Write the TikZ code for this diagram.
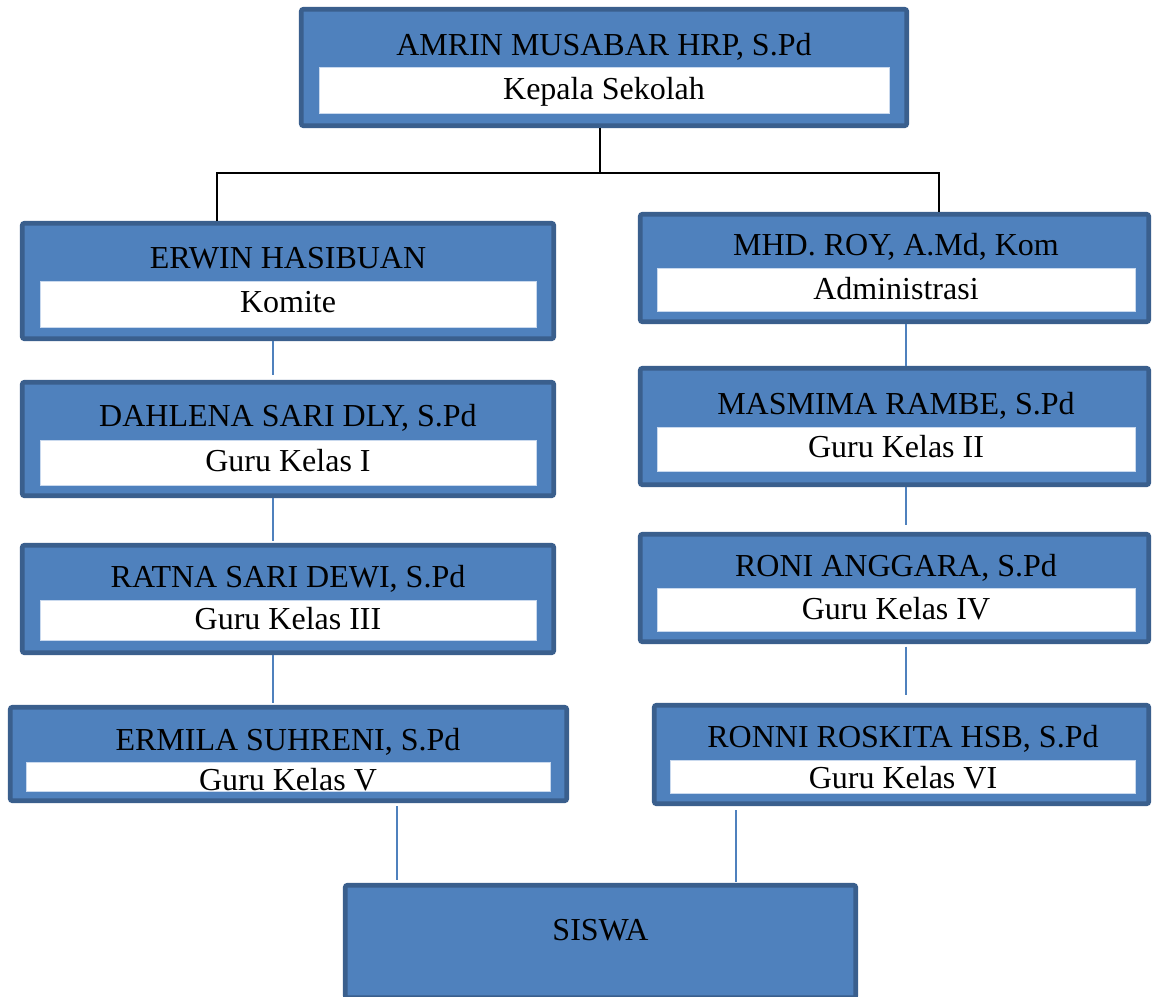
\documentclass[tikz,border=0pt]{standalone}
\usepackage{fontspec}
\setmainfont{Liberation Serif}
\definecolor{boxfill}{HTML}{4F81BD}
\definecolor{boxborder}{HTML}{3A5F8D}
\definecolor{whiteedge}{HTML}{C9D9EE}
\definecolor{linkblue}{HTML}{4F81BD}
\tikzset{
  bluebox/.style={draw=boxborder, fill=boxfill, line width=3.4pt, rounded corners=1.5pt, inner sep=0pt},
  whitebox/.style={draw=whiteedge, fill=white, line width=0.6pt, inner sep=0pt},
  lbl/.style={font=\fontsize{24}{28}\selectfont, anchor=base, inner sep=0pt, text=black},
  link/.style={draw=linkblue, line width=1.1pt},
  boss/.style={draw=black, line width=1.5pt}
}
\newcommand\mkbox[5]{\node[bluebox, minimum width={(#4-#2-4.5)*0.75pt}, minimum height={(#5-#3-4.5)*0.75pt}] (#1) at ({(#2+#4)/2},{(#3+#5)/2}) {};}
\newcommand\mkwhite[5]{\node[whitebox, minimum width={(#4-#2)*0.75pt}, minimum height={(#5-#3)*0.75pt}] (#1) at ({(#2+#4)/2},{(#3+#5)/2}) {};}
\begin{document}
\begin{tikzpicture}[x=0.75pt,y=-0.75pt]
\clip (0,0) rectangle (1153,996);
\fill[white] (0,0) rectangle (1153,996);

% boxes
\mkbox{top}{299}{7}{909}{128}
\mkwhite{topw}{319}{67}{889}{113}
\mkbox{erwin}{20}{221}{556}{341}
\mkwhite{erwinw}{40}{281}{536}{327}
\mkbox{dahlena}{20}{380}{556}{498}
\mkwhite{dahlenaw}{40}{440}{536}{485}
\mkbox{ratna}{20}{543}{556}{655}
\mkwhite{ratnaw}{40}{600}{536}{640}
\mkbox{ermila}{8}{705}{569}{803}
\mkwhite{ermilaw}{26}{762}{550}{791}
\mkbox{mhd}{638}{212}{1151}{324}
\mkwhite{mhdw}{657}{268}{1135}{311}
\mkbox{masmima}{638}{366}{1151}{487}
\mkwhite{masmimaw}{657}{427}{1135}{471}
\mkbox{roni}{638}{532}{1151}{644}
\mkwhite{roniw}{657}{588}{1135}{631}
\mkbox{ronni}{652}{703}{1151}{806}
\mkwhite{ronniw}{670}{760}{1135}{793}
\mkbox{siswa}{343}{883}{858}{1000}

% labels
\node[lbl] (t1) at (604,55.5) {AMRIN MUSABAR HRP, S.Pd};
\node[lbl] (s1) at (604,99) {Kepala Sekolah};
\node[lbl] (t2) at (288,268) {ERWIN HASIBUAN};
\node[lbl] (s2) at (288,312) {Komite};
\node[lbl] (t3) at (288,426) {DAHLENA SARI DLY, S.Pd};
\node[lbl] (s3) at (288,471) {Guru Kelas I};
\node[lbl] (t4) at (288,587) {RATNA SARI DEWI, S.Pd};
\node[lbl] (s4) at (288,629) {Guru Kelas III};
\node[lbl] (t5) at (288,750) {ERMILA SUHRENI, S.Pd};
\node[lbl] (s5) at (288,790) {Guru Kelas V};
\node[lbl] (t6) at (896,255) {MHD. ROY, A.Md, Kom};
\node[lbl] (s6) at (896,299) {Administrasi};
\node[lbl] (t7) at (896,414) {MASMIMA RAMBE, S.Pd};
\node[lbl] (s7) at (896,457) {Guru Kelas II};
\node[lbl] (t8) at (896,576) {RONI ANGGARA, S.Pd};
\node[lbl] (s8) at (896,619) {Guru Kelas IV};
\node[lbl] (t9) at (903,747) {RONNI ROSKITA HSB, S.Pd};
\node[lbl] (s9) at (903,788) {Guru Kelas VI};
\node[lbl] (t10) at (600.5,940) {SISWA};

% connector coordinates
\coordinate (jm) at (600,173);
\coordinate (jl) at (216.5,173);
\coordinate (jr) at (939,173);
\coordinate (cl) at (273,0);
\coordinate (cr) at (906,0);
\coordinate (bl) at (397,0);
\coordinate (br) at (736,0);

% black connector from head
\draw[boss] (top.south -| jm) -- (jm);
\draw[boss] (erwin.north -| jl) -- (jl) -- (jr) -- (mhd.north -| jr);

% left column
\draw[link, shorten >=3.5pt] (erwin.south -| cl) -- (dahlena.north -| cl);
\draw[link, shorten >=1.5pt] (dahlena.south -| cl) -- (ratna.north -| cl);
\draw[link, shorten >=1.5pt] (ratna.south -| cl) -- (ermila.north -| cl);
% right column
\draw[link] (mhd.south -| cr) -- (masmima.north -| cr);
\draw[link, shorten >=5pt] (masmima.south -| cr) -- (roni.north -| cr);
\draw[link, shorten <=2pt, shorten >=6pt] (roni.south -| cr) -- (ronni.north -| cr);
% to SISWA
\draw[link, shorten <=2.5pt, shorten >=2.5pt] (ermila.south -| bl) -- (siswa.north -| bl);
\draw[link, shorten <=3pt, shorten >=0.5pt] (ronni.south -| br) -- (siswa.north -| br);
\end{tikzpicture}
\end{document}
